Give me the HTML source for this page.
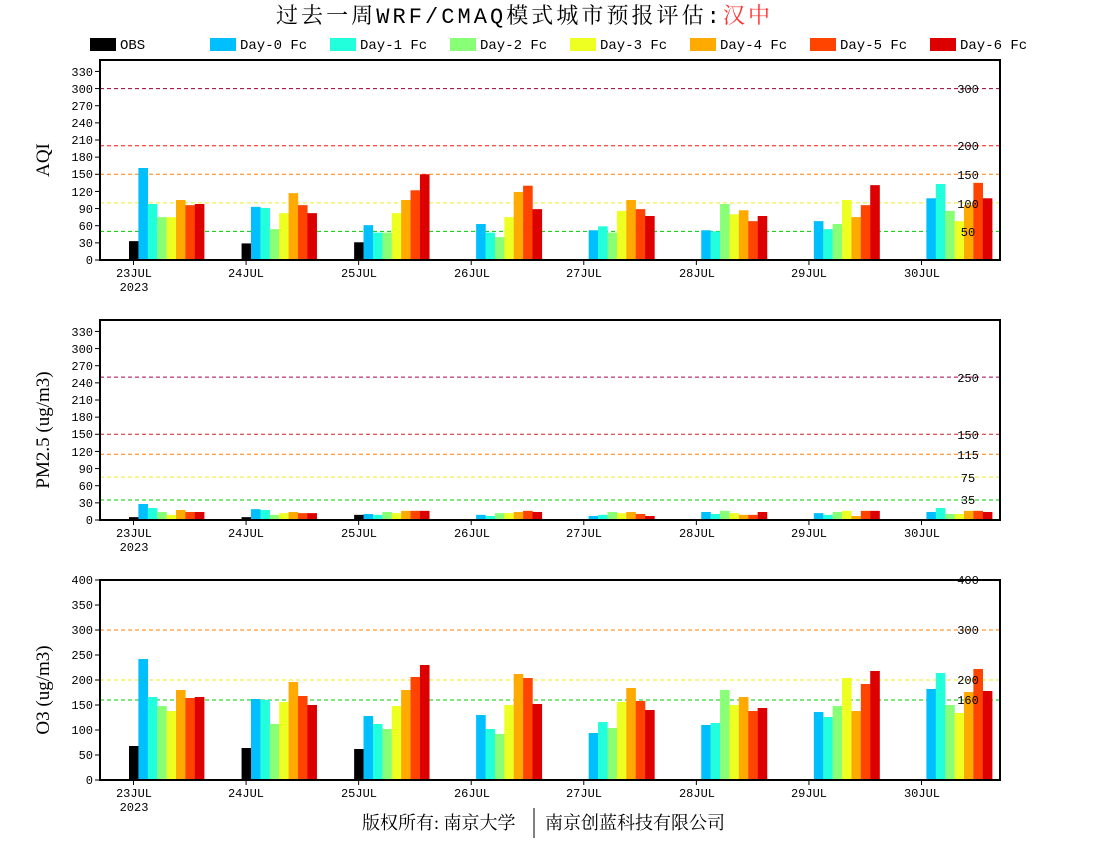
<!DOCTYPE html>
<html><head><meta charset="utf-8"><style>
html,body{margin:0;padding:0;background:#fff;}
svg{display:block;}
text{font-family:"Liberation Mono","Noto Sans CJK SC",monospace;font-size:12px;fill:#000;}
.t{font-family:"Liberation Mono","Noto Serif CJK SC",serif;font-size:22px;}
.yl{font-family:"Liberation Serif",serif;font-size:19px;}
.lg{font-size:14px;}
.ft{font-family:"Liberation Serif","Noto Serif CJK SC",serif;font-size:18px;}
</style></head><body>
<svg id="s" width="1100" height="850" xmlns="http://www.w3.org/2000/svg">
<text class="t" x="276" y="23" textLength="494" lengthAdjust="spacing">过去一周WRF/CMAQ模式城市预报评估:<tspan fill="#ff3333">汉中</tspan></text>
<g class="lg">
<rect x="90" y="38" width="26" height="13" fill="#000"/><text class="lg" x="120" y="49">OBS</text>
<rect x="210" y="38" width="26" height="13" fill="#00bfff"/><text class="lg" x="240" y="49">Day-0 Fc</text>
<rect x="330" y="38" width="26" height="13" fill="#22ffdd"/><text class="lg" x="360" y="49">Day-1 Fc</text>
<rect x="450" y="38" width="26" height="13" fill="#88ff77"/><text class="lg" x="480" y="49">Day-2 Fc</text>
<rect x="570" y="38" width="26" height="13" fill="#eeff22"/><text class="lg" x="600" y="49">Day-3 Fc</text>
<rect x="690" y="38" width="26" height="13" fill="#ffaa00"/><text class="lg" x="720" y="49">Day-4 Fc</text>
<rect x="810" y="38" width="26" height="13" fill="#ff4400"/><text class="lg" x="840" y="49">Day-5 Fc</text>
<rect x="930" y="38" width="26" height="13" fill="#dd0000"/><text class="lg" x="960" y="49">Day-6 Fc</text>
</g>
<text class="yl" transform="translate(49,160) rotate(-90)" text-anchor="middle">AQI</text>
<text class="yl" transform="translate(49,430) rotate(-90)" text-anchor="middle">PM2.5 (ug/m3)</text>
<text class="yl" transform="translate(49,690) rotate(-90)" text-anchor="middle">O3 (ug/m3)</text>
<g id="g"></g>
<g text-anchor="end">
<text x="93" y="264">0</text><text x="93" y="247">30</text><text x="93" y="230">60</text><text x="93" y="213">90</text><text x="93" y="196">120</text><text x="93" y="178">150</text><text x="93" y="161">180</text><text x="93" y="144">210</text><text x="93" y="127">240</text><text x="93" y="110">270</text><text x="93" y="93">300</text><text x="93" y="76">330</text>
<text x="93" y="524">0</text><text x="93" y="507">30</text><text x="93" y="490">60</text><text x="93" y="473">90</text><text x="93" y="456">120</text><text x="93" y="438">150</text><text x="93" y="421">180</text><text x="93" y="404">210</text><text x="93" y="387">240</text><text x="93" y="370">270</text><text x="93" y="353">300</text><text x="93" y="336">330</text>
<text x="93" y="784">0</text><text x="93" y="759">50</text><text x="93" y="734">100</text><text x="93" y="709">150</text><text x="93" y="684">200</text><text x="93" y="659">250</text><text x="93" y="634">300</text><text x="93" y="609">350</text><text x="93" y="584">400</text>
</g>
<g text-anchor="middle">
<text x="968" y="93">300</text><text x="968" y="150">200</text><text x="968" y="179">150</text><text x="968" y="208">100</text><text x="968" y="236">50</text>
<text x="968" y="382">250</text><text x="968" y="439">150</text><text x="968" y="459">115</text><text x="968" y="482">75</text><text x="968" y="504">35</text>
<text x="968" y="584">400</text><text x="968" y="634">300</text><text x="968" y="684">200</text><text x="968" y="704">160</text>
</g>
<g text-anchor="middle" id="xl">
<text x="134" y="277">23JUL</text><text x="134" y="291">2023</text><text x="246" y="277">24JUL</text><text x="359" y="277">25JUL</text><text x="472" y="277">26JUL</text><text x="584" y="277">27JUL</text><text x="697" y="277">28JUL</text><text x="809" y="277">29JUL</text><text x="922" y="277">30JUL</text>
<text x="134" y="537">23JUL</text><text x="134" y="551">2023</text><text x="246" y="537">24JUL</text><text x="359" y="537">25JUL</text><text x="472" y="537">26JUL</text><text x="584" y="537">27JUL</text><text x="697" y="537">28JUL</text><text x="809" y="537">29JUL</text><text x="922" y="537">30JUL</text>
<text x="134" y="797">23JUL</text><text x="134" y="811">2023</text><text x="246" y="797">24JUL</text><text x="359" y="797">25JUL</text><text x="472" y="797">26JUL</text><text x="584" y="797">27JUL</text><text x="697" y="797">28JUL</text><text x="809" y="797">29JUL</text><text x="922" y="797">30JUL</text>
</g>
<text class="ft" x="362" y="829">版权所有: 南京大学</text>
<line x1="534" y1="808" x2="534" y2="838" stroke="#000" stroke-width="1"/>
<text class="ft" x="545" y="829">南京创蓝科技有限公司</text>
</svg>
<script>
var NS="http://www.w3.org/2000/svg",g=document.getElementById('g');
function el(n,a){var e=document.createElementNS(NS,n);for(var k in a)e.setAttribute(k,a[k]);g.appendChild(e);}
var C=['#000','#00bfff','#22ffdd','#88ff77','#eeff22','#ffaa00','#ff4400','#dd0000'];
var P=[
{b:260,t:60,max:350,yt:[0,30,60,90,120,150,180,210,240,270,300,330],
th:[[300,'#990033'],[200,'#ff1111'],[150,'#ff8000'],[100,'#eeee22'],[50,'#00cc00']],
d:[[33,161,98,75,75,105,96,98],[29,93,91,54,82,117,96,82],[31,61,48,48,82,105,122,150],[0,63,48,40,75,119,130,89],[0,52,59,48,86,105,89,77],[0,52,50,98,80,87,68,77],[0,68,54,63,105,75,96,131],[0,108,133,86,68,96,135,108]]},
{b:520,t:320,max:350,yt:[0,30,60,90,120,150,180,210,240,270,300,330],
th:[[250,'#aa0055'],[150,'#cc2222'],[115,'#ff8000'],[75,'#eeee22'],[35,'#00cc00']],
d:[[5,28,21,14,9,17.5,14,14],[5,19,17.5,9,12,14,12,12],[9,10.5,9,14,12,16,16,16],[0,9,7,12,12,14,16,14],[0,7,9,14,12,14,10.5,7],[0,14,10.5,16,12,9,9,14],[0,12,9,14,16,7,16,16],[0,14,21,10.5,10.5,16,16,14]]},
{b:780,t:580,max:400,yt:[0,50,100,150,200,250,300,350,400],
th:[[400,'#ff0000'],[300,'#ff8000'],[200,'#eeee22'],[160,'#00cc00']],
d:[[68,242,166,148,138,180,164,166],[64,162,160,112,156,196,168,150],[62,128,112,102,148,180,206,230],[0,130,102,92,150,212,204,152],[0,94,116,104,156,184,158,140],[0,110,114,180,150,166,138,144],[0,136,126,148,204,138,192,218],[0,182,214,150,134,176,222,178]]}];
P.forEach(function(p){
 var s=(p.b-p.t)/p.max;
 p.th.forEach(function(h){var y=p.b-h[0]*s;el('line',{x1:100,x2:1000,y1:y,y2:y,stroke:h[1],'stroke-width':1,'stroke-dasharray':'4,3'});});
 p.d.forEach(function(v,d){var tk=133.5+d*112.57;
  v.forEach(function(val,i){if(val<=0)return;var h=val*s;el('rect',{x:tk-4.5+i*9.4,y:p.b-h,width:9.6,height:h,fill:C[i]});});
  el('line',{x1:tk,x2:tk,y1:p.b,y2:p.b+5,stroke:'#000','stroke-width':1});
 });
 p.yt.forEach(function(v){var y=p.b-v*s;el('line',{x1:95,x2:100,y1:y,y2:y,stroke:'#000','stroke-width':1});});
 el('rect',{x:100,y:p.t,width:900,height:p.b-p.t,fill:'none',stroke:'#000','stroke-width':2});
});
</script>
</body></html>
